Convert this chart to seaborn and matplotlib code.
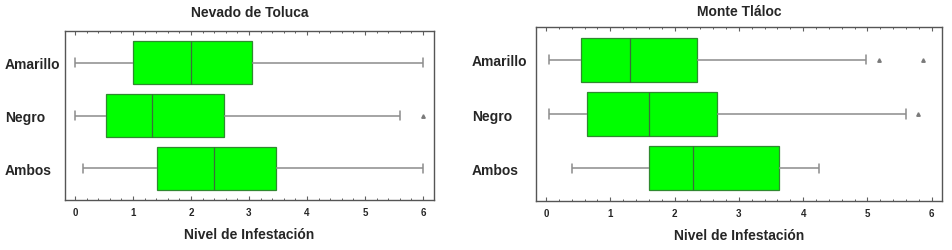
import matplotlib
matplotlib.use("Agg")
import matplotlib.pyplot as plt
from matplotlib.ticker import MultipleLocator
import seaborn as sns
import pandas as pd

sns.set_style("white")
plt.rcParams['font.family'] = ['Liberation Sans', 'DejaVu Sans']

# Categories (top to bottom)
grupos = ["Amarillo", "Negro", "Ambos"]

# Box statistics: [Amarillo, Negro, Ambos]
toluca_lo = [0.0, 0.0, 0.14]
toluca_q1 = [1.0, 0.54, 1.41]
toluca_med = [2.0, 1.33, 2.39]
toluca_q3 = [3.05, 2.57, 3.47]
toluca_hi = [6.0, 5.61, 6.0]
toluca_out = [[], [6.0], []]

tlaloc_lo = [0.05, 0.05, 0.40]
tlaloc_q1 = [0.55, 0.64, 1.61]
tlaloc_med = [1.31, 1.61, 2.29]
tlaloc_q3 = [2.35, 2.66, 3.63]
tlaloc_hi = [4.97, 5.60, 4.25]
tlaloc_out = [[5.18, 5.87], [5.79], []]


def build_frame(lo, q1, med, q3, hi, out):
    # 13 sorted values per group: quartiles land exactly on indices 3, 6, 9
    rows = []
    for i, g in enumerate(grupos):
        vals = ([lo[i]] * 3 + [q1[i]] * 3 + [med[i]] * 3 + [q3[i]]
                + [q3[i]] * (2 - len(out[i])) + [hi[i]] + out[i])
        rows += [(g, v) for v in vals]
    return pd.DataFrame(rows, columns=["grupo", "nivel"])


df_toluca = build_frame(toluca_lo, toluca_q1, toluca_med, toluca_q3, toluca_hi, toluca_out)
df_tlaloc = build_frame(tlaloc_lo, tlaloc_q1, tlaloc_med, tlaloc_q3, tlaloc_hi, tlaloc_out)

fig = plt.figure(figsize=(9.53, 2.51), dpi=100)
ax1 = fig.add_axes([0.0677, 0.199, 0.3877, 0.673])
ax2 = fig.add_axes([0.5621, 0.195, 0.4264, 0.693])

# axes, data, title, x-limits, title pad, y-label pad (pt)
panels = [
    (ax1, df_toluca, "Nevado de Toluca", (-0.18, 6.19), 11, 43),
    (ax2, df_tlaloc, "Monte Tláloc", (-0.16, 6.16), 8.5, 46),
]

for ax, df, titulo, xlim, tpad, ypad in panels:
    sns.boxplot(
        data=df, x="nivel", y="grupo", order=grupos, orient="h", ax=ax,
        width=0.81, whis=1.5, color="#00ff00", saturation=1,
        linecolor="#2f7a2f", linewidth=0.9,
        boxprops=dict(facecolor="#00ff00", edgecolor="#2f8a2f"),
        medianprops=dict(color="#3a6e3a", linewidth=0.9),
        whiskerprops=dict(color="#8c8c8c", linewidth=1.1),
        capprops=dict(color="#8c8c8c", linewidth=1.1),
        flierprops=dict(marker="^", markersize=2.5, markerfacecolor="#7a7a7a",
                        markeredgecolor="#7a7a7a"),
        capwidths=0.17,
    )
    ax.set_xlim(*xlim)
    ax.set_ylim(2.6, -0.6)
    ax.set_title(titulo, fontsize=10, fontweight="bold", pad=tpad)
    ax.set_xlabel("Nivel de Infestación", fontsize=10, fontweight="bold", labelpad=7)
    ax.set_ylabel("")
    ax.xaxis.set_major_locator(MultipleLocator(1))
    ax.xaxis.set_minor_locator(MultipleLocator(0.2))
    ax.tick_params(axis="x", which="major", direction="in", length=3, width=0.8,
                   top=True, bottom=True, color="#606060", labelsize=7, pad=5)
    ax.tick_params(axis="x", which="minor", direction="in", length=1.5, width=0.7,
                   top=True, bottom=True, color="#606060")
    ax.tick_params(axis="y", length=0, labelsize=10, pad=ypad)
    for lab in ax.get_xticklabels() + ax.get_yticklabels():
        lab.set_fontweight("bold")
    for lab in ax.get_yticklabels():
        lab.set_horizontalalignment("left")
    for sp in ax.spines.values():
        sp.set_color("#555555")
        sp.set_linewidth(1.0)

fig.savefig("out.png", dpi=100)
